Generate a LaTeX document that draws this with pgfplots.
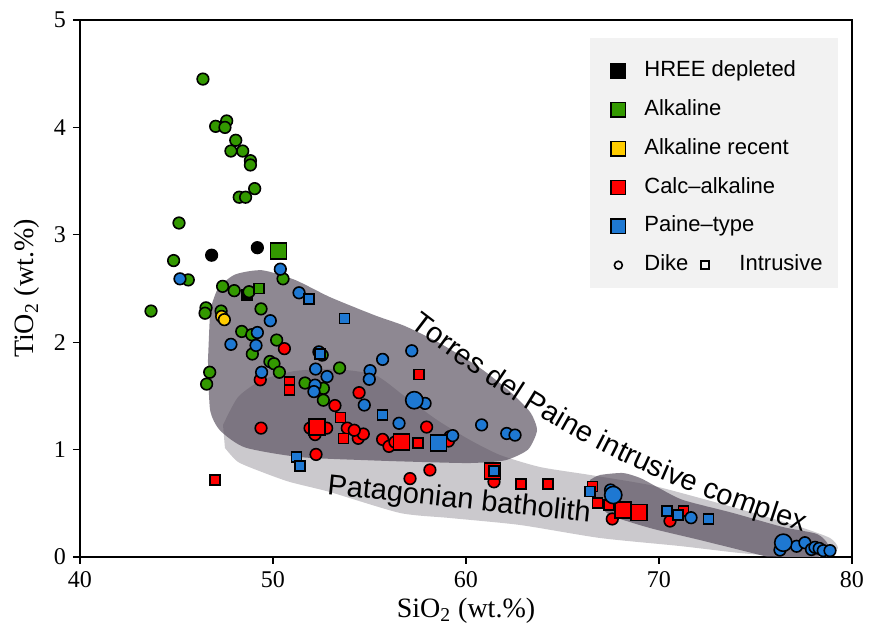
\documentclass[border=0pt]{standalone}
\usepackage{fontspec}
\setmainfont{Liberation Serif}
\newfontfamily\sansf{Liberation Sans}
\usepackage{pgfplots}
\pgfplotsset{compat=1.18}
\usetikzlibrary{decorations.text}

\definecolor{hree}{HTML}{000000}
\definecolor{alk}{HTML}{339900}
\definecolor{alkrec}{HTML}{FFCC00}
\definecolor{calc}{HTML}{FF0000}
\definecolor{paine}{HTML}{1E78D2}
\definecolor{legbg}{HTML}{F2F2F2}
\definecolor{batho}{HTML}{CBC9CD}
\definecolor{tpic}{HTML}{544B5A}

\pgfplotsset{
  dk/.style={only marks, forget plot, mark=*, mark size=2.9pt,
    mark options={draw=black, line width=0.8pt, fill=#1}},
  dkL/.style={dk=#1, mark size=4.3pt},
  intr/.style={only marks, forget plot, mark=square*, mark size=2.5pt,
    mark options={draw=black, line width=0.8pt, fill=#1}},
  intrL/.style={intr=#1, mark size=4pt},
  swatch/.style={legend image code/.code={
    \draw[fill=#1, draw=black, line width=0.7pt] (0pt,-3.6pt) rectangle (7.3pt,3.6pt);}},
}

\begin{document}
\begin{tikzpicture}
\begin{axis}[
  scale only axis, width=386pt, height=268.5pt,
  xmin=40, xmax=80, ymin=0, ymax=5,
  xtick={40,50,...,80}, ytick={0,1,...,5},
  tick align=outside, xtick pos=bottom, ytick pos=left,
  major tick length=3.5pt,
  axis line style={line width=0.6pt},
  every tick/.style={line width=0.6pt, black},
  tick label style={font=\fontsize{12}{14}\selectfont, /pgf/number format/assume math mode=true},
  xlabel={SiO\textsubscript{2} (wt.\%)},
  ylabel={TiO\textsubscript{2} (wt.\%)},
  label style={font=\fontsize{14}{16}\selectfont},
  xlabel style={at={(axis description cs:0.5,-0.1)}, anchor=center},
  ylabel style={at={(axis description cs:-0.0687,0.5)}, anchor=center},
  legend style={at={(0.6865,0.925)}, anchor=north west, draw=none, fill=none,
    inner sep=0pt, row sep=8.9pt, font=\sansf\fontsize{11}{13}\selectfont,
    nodes={inner xsep=0pt, inner ysep=0pt, text height=8pt, text depth=2.5pt},
    /tikz/every odd column/.append style={column sep=9pt}},
  legend cell align=left,
]
% legend panel
\fill[legbg] (rel axis cs:0.6606,0.5009) rectangle (rel axis cs:0.9819,0.9665);

% Patagonian batholith field
\addplot[fill=batho, draw=none, forget plot, smooth, tension=0.4] coordinates {
(47.41,1.229)(48.19,1.490)(49.43,1.648)(51.14,1.732)(53.21,1.750)(55.28,1.695)
(56.74,1.508)(58.50,1.276)(60.21,1.089)(61.76,0.950)(63.83,0.838)(66.42,0.764)
(69.53,0.670)(72.12,0.549)(74.72,0.419)(77.31,0.279)(78.86,0.177)(79.27,0.084)
(78.76,0.009)(77.31,-0.009)(74.20,0.037)(71.09,0.102)(66.94,0.177)(62.80,0.298)
(59.17,0.363)(56.58,0.410)(52.95,0.605)(50.88,0.698)(49.43,0.791)(48.19,0.885)
(47.51,1.015)};

% Torres del Paine intrusive complex field
\addplot[fill=tpic, fill opacity=0.66, draw=none, forget plot, smooth, tension=0.4] coordinates {
(46.74,2.30)(47.15,2.50)(48.03,2.63)(49.43,2.67)(51.14,2.58)(52.95,2.42)
(55.28,2.25)(56.84,2.15)(58.65,1.99)(60.73,1.76)(62.28,1.54)(63.32,1.35)
(63.68,1.18)(63.21,1.00)(62.02,0.90)(60.21,0.875)(57.62,0.885)(55.03,0.90)
(51.40,0.93)(48.55,1.02)(47.25,1.18)(46.74,1.37)(46.63,1.83)};
\addplot[fill=tpic, fill opacity=0.66, draw=none, forget plot, smooth, tension=0.4] coordinates {
(66.42,0.717)(66.94,0.763)(68.13,0.782)(69.02,0.736)(69.90,0.652)(71.24,0.531)
(73.83,0.410)(76.42,0.279)(78.19,0.214)(78.76,0.112)(78.34,0.009)(77.67,-0.028)
(76.27,-0.028)(75.23,0.019)(72.12,0.158)(69.53,0.270)(67.46,0.391)(66.68,0.531)};

% HREE depleted
\addplot[dk=hree] coordinates {(46.82,2.81)(49.19,2.88)};
\addplot[intr=hree] coordinates {(48.64,2.44)};

% Alkaline
\addplot[dk=alk] coordinates {
(46.37,4.45)(47.60,4.06)(47.03,4.01)(47.51,4.00)(48.07,3.88)(47.82,3.78)
(48.43,3.78)(48.83,3.69)(48.83,3.65)(49.05,3.43)(48.25,3.35)(48.58,3.35)
(45.13,3.11)(44.85,2.76)(45.61,2.58)(50.52,2.59)(47.39,2.52)(47.99,2.48)
(48.76,2.47)(46.53,2.32)(46.48,2.27)(47.31,2.29)(49.38,2.31)(48.38,2.10)
(48.90,2.07)(48.93,1.89)(50.19,2.02)(49.84,1.82)(50.05,1.80)(50.33,1.72)
(46.72,1.72)(46.56,1.61)(53.45,1.76)(51.66,1.62)(52.61,1.57)(52.61,1.46)
(52.55,1.88)(43.68,2.29)};
\addplot[intr=alk] coordinates {(49.29,2.50)};
\addplot[intrL=alk] coordinates {(50.29,2.85)};

% Alkaline recent
\addplot[dk=alkrec] coordinates {(47.34,2.24)(47.48,2.21)};

% Calc-alkaline
\addplot[dk=calc] coordinates {
(50.59,1.94)(49.34,1.65)(53.21,1.41)(54.46,1.53)(49.38,1.20)(51.92,1.20)
(52.18,1.14)(52.78,1.20)(53.85,1.20)(54.42,1.105)(54.68,1.145)(54.21,1.18)
(52.23,0.955)(55.68,1.095)(56.01,1.03)(56.32,1.07)(57.96,1.21)(59.17,1.12)
(59.09,1.08)(58.13,0.81)(57.10,0.73)(61.45,0.70)(67.58,0.354)(70.57,0.335)};
\addplot[intr=calc] coordinates {
(50.86,1.63)(50.86,1.555)(53.49,1.30)(53.66,1.105)(46.99,0.717)(57.58,1.70)
(57.50,1.06)(62.85,0.677)(64.25,0.677)(66.56,0.655)(66.82,0.505)(67.42,0.484)
(71.26,0.43)};
\addplot[intrL=calc] coordinates {
(52.28,1.21)(56.66,1.07)(61.38,0.80)(68.12,0.44)(68.96,0.415)};

% Paine-type
\addplot[dk=paine] coordinates {
(45.18,2.59)(50.38,2.68)(51.35,2.46)(49.86,2.20)(49.19,2.09)(47.82,1.98)
(49.12,1.97)(49.41,1.72)(52.38,1.91)(52.21,1.75)(52.80,1.68)(52.18,1.60)
(52.12,1.54)(54.73,1.415)(55.03,1.735)(54.99,1.655)(57.19,1.92)(55.68,1.84)
(57.88,1.43)(56.53,1.245)(59.31,1.13)(60.81,1.23)(62.11,1.15)(62.54,1.135)
(67.49,0.624)(71.66,0.366)(76.27,0.065)(77.13,0.10)(77.56,0.133)(77.90,0.07)
(78.08,0.09)(78.30,0.08)(78.51,0.059)(78.86,0.059)};
\addplot[dkL=paine] coordinates {(57.32,1.46)(67.63,0.577)(76.44,0.133)};
\addplot[intr=paine] coordinates {
(51.85,2.40)(53.70,2.22)(52.45,1.89)(55.68,1.32)(51.22,0.93)(51.41,0.845)
(61.45,0.80)(66.42,0.61)(70.40,0.43)(71.00,0.39)(72.56,0.354)};
\addplot[intrL=paine] coordinates {(58.57,1.06)};

% field labels
\path[decorate, decoration={text along path, text align=center, raise=-3.5pt,
  text={|\sansf\fontsize{14.5}{17}\selectfont|Torres del Paine intrusive complex}}]
  (axis cs:56.48,2.309) -- (axis cs:57.51,2.169)
  .. controls (axis cs:63.32,1.369) and (axis cs:68.50,0.810) .. (axis cs:77.31,0.317)
  -- (axis cs:78.55,0.251);
\node[rotate=-6, font=\sansf\fontsize{14.5}{17}\selectfont] at (axis cs:59.64,0.525) {Patagonian batholith};

% legend
\addlegendimage{swatch=hree}\addlegendentry{HREE depleted}
\addlegendimage{swatch=alk}\addlegendentry{Alkaline}
\addlegendimage{swatch=alkrec}\addlegendentry{Alkaline recent}
\addlegendimage{swatch=calc}\addlegendentry{Calc–alkaline}
\addlegendimage{swatch=paine}\addlegendentry{Paine–type}
\addlegendimage{legend image code/.code={
  \path[draw=none, fill=none] (0pt,-3.6pt) rectangle (7.3pt,3.6pt);
  \draw[draw=black, fill=none, line width=0.8pt] (3.65pt,0pt) circle (2pt);
  \draw[overlay, draw=black, fill=none, line width=0.8pt] (45pt,-2pt) rectangle (49pt,2pt);
  \node[overlay, anchor=west, inner sep=0pt, text height=8pt, text depth=2.5pt,
    font=\sansf\fontsize{11}{13}\selectfont] at (64pt,0pt) {Intrusive};}}
\addlegendentry{Dike}
\end{axis}
\pgfresetboundingbox
\path[use as bounding box] (-40pt,-37pt) rectangle (394.5pt,278.5pt);
\end{tikzpicture}
\end{document}
